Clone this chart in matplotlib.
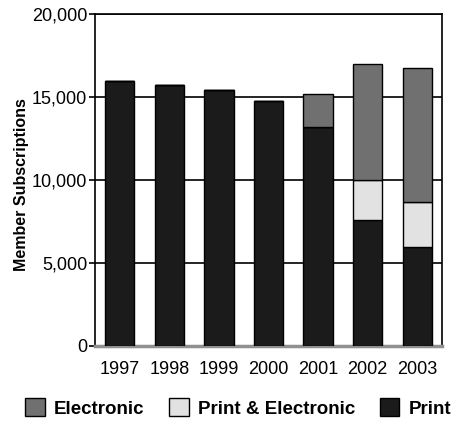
import numpy as np
import matplotlib
matplotlib.use("Agg")
import matplotlib.pyplot as plt
from matplotlib.patches import Patch
from matplotlib.ticker import FuncFormatter

plt.rcParams["font.family"] = ["Liberation Sans", "DejaVu Sans"]

# ------------------------------------------------------------
# Data
# ------------------------------------------------------------

years = ["1997", "1998", "1999", "2000", "2001", "2002", "2003"]

print_only = [15950, 15700, 15420, 14780, 13210, 7590, 5980]
print_electronic = [0, 0, 0, 0, 0, 2410, 2710]
electronic = [0, 0, 0, 0, 1950, 6970, 8080]

# ------------------------------------------------------------
# Figure
# ------------------------------------------------------------

fig = plt.figure(figsize=(4.67, 4.25), dpi=100)
ax = fig.add_axes([95 / 467, 1 - 346 / 425, 347 / 467, 332 / 425])

x = np.arange(len(years))
width = 0.59

c_print = "#1b1b1b"
c_pe = "#e2e2e2"
c_elec = "#707070"

p = np.array(print_only)
pe = np.array(print_electronic)
e = np.array(electronic)

ax.bar(x, p, width, color=c_print, edgecolor="black", linewidth=1.0, zorder=3)
ax.bar(x, pe, width, bottom=p, color=c_pe, edgecolor="black", linewidth=1.0, zorder=3)
ax.bar(x, e, width, bottom=p + pe, color=c_elec, edgecolor="black", linewidth=1.0, zorder=3)

ax.set_xlim(-0.5, len(years) - 0.5)
ax.set_ylim(0, 20000)
ax.set_yticks([0, 5000, 10000, 15000, 20000])
ax.yaxis.set_major_formatter(FuncFormatter(lambda v, _: f"{int(v):,}"))
ax.set_xticks(x)
ax.set_xticklabels(years)

ax.yaxis.grid(True, color="black", linewidth=1.2, zorder=1)
ax.set_axisbelow(True)

ax.tick_params(axis="y", length=4, width=1.2, labelsize=13, pad=1.5)
ax.tick_params(axis="x", length=0, labelsize=13, pad=11)

for side in ["top", "right", "left"]:
    ax.spines[side].set_linewidth(1.2)
    ax.spines[side].set_color("black")
ax.spines["bottom"].set_linewidth(2.5)
ax.spines["bottom"].set_color("#909090")

ax.set_ylabel("Member Subscriptions", fontsize=11.5, fontweight="bold")
ax.yaxis.set_label_coords(-0.19, 0.485)

handles = [
    Patch(facecolor=c_elec, edgecolor="black", label="Electronic"),
    Patch(facecolor=c_pe, edgecolor="black", label="Print & Electronic"),
    Patch(facecolor=c_print, edgecolor="black", label="Print"),
]
fig.legend(
    handles=handles,
    loc="center",
    bbox_to_anchor=(0.51, 1 - 408 / 425),
    ncol=3,
    frameon=False,
    prop={"weight": "bold", "size": 13.5},
    handlelength=1.05,
    handleheight=1.05,
    handletextpad=0.5,
    columnspacing=1.3,
    borderpad=0,
)

fig.savefig("out.png", dpi=100)
